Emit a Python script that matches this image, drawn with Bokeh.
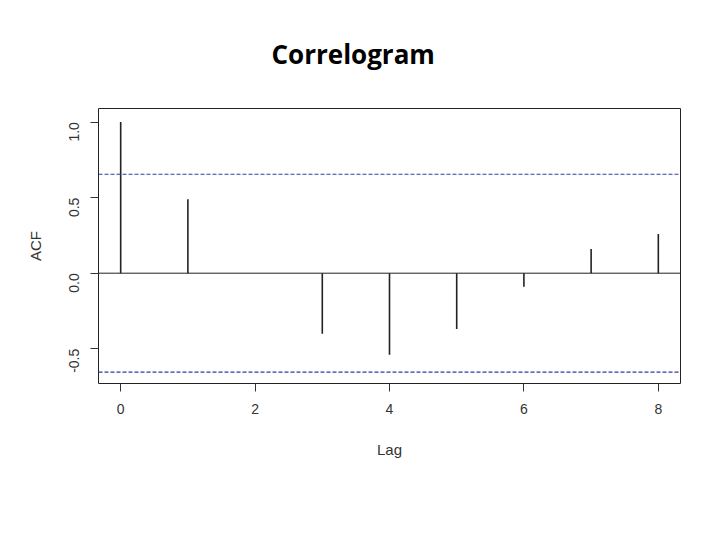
from bokeh.plotting import figure
from bokeh.models import FixedTicker, Span, Title, Range1d
from bokeh.embed import file_html
from bokeh.resources import INLINE
import math

lags = [0, 1, 2, 3, 4, 5, 6, 7, 8]
acf = [1.0, 0.49, 0.0, -0.40, -0.54, -0.37, -0.09, 0.16, 0.26]
conf = 0.655
x_ticks = [0, 2, 4, 6, 8]
y_ticks = [-0.5, 0.0, 0.5, 1.0]
y_tick_labels = ["-0.5", "0.0", "0.5", "1.0"]

p = figure(width=704, height=524, output_backend="svg", toolbar_location=None,
           x_range=Range1d(-0.33, 8.33), y_range=Range1d(-0.73, 1.09),
           frame_width=582, frame_height=275,
           min_border_left=98, min_border_top=108, min_border_right=24, min_border_bottom=141)

p.add_layout(Title(text="Correlogram", text_font="Open Sans", text_font_style="bold",
                   text_font_size="26px", text_color="black", align="left",
                   vertical_align="top", offset=173, standoff=70), "above")

p.segment(x0=lags, y0=[0]*len(lags), x1=lags, y1=acf, line_color="#222222", line_width=1.6)

p.add_layout(Span(location=0, dimension="width", line_color="#222222", line_width=1))
for c in (conf, -conf):
    p.add_layout(Span(location=c, dimension="width", line_color="#2b3f9e",
                      line_width=1.2, line_dash="4 2"))

p.xgrid.visible = False
p.ygrid.visible = False
p.outline_line_color = "#222222"
p.outline_line_width = 1
p.background_fill_color = "white"
p.border_fill_color = "white"

for ax in (p.xaxis[0], p.yaxis[0]):
    ax.axis_line_color = None
    ax.major_tick_in = 0
    ax.major_tick_out = 8
    ax.minor_tick_line_color = None
    ax.major_tick_line_color = "#333333"
    ax.major_label_text_font = "Liberation Sans"
    ax.major_label_text_font_size = "14px"
    ax.major_label_text_color = "#333333"
    ax.axis_label_text_font = "Liberation Sans"
    ax.axis_label_text_font_size = "15px"
    ax.axis_label_text_font_style = "normal"
    ax.axis_label_text_color = "#333333"

p.xaxis.ticker = FixedTicker(ticks=x_ticks)
p.yaxis.ticker = FixedTicker(ticks=y_ticks)
p.yaxis.major_label_overrides = {t: l for t, l in zip(y_ticks, y_tick_labels)}
p.yaxis.major_label_orientation = math.pi / 2
p.xaxis.axis_label = "Lag"
p.yaxis.axis_label = "ACF"
p.xaxis.major_label_standoff = 12
p.xaxis.axis_label_standoff = 24
p.yaxis.major_label_standoff = 16
p.yaxis.axis_label_standoff = 18

open("out.html", "w").write(file_html(p, INLINE))
